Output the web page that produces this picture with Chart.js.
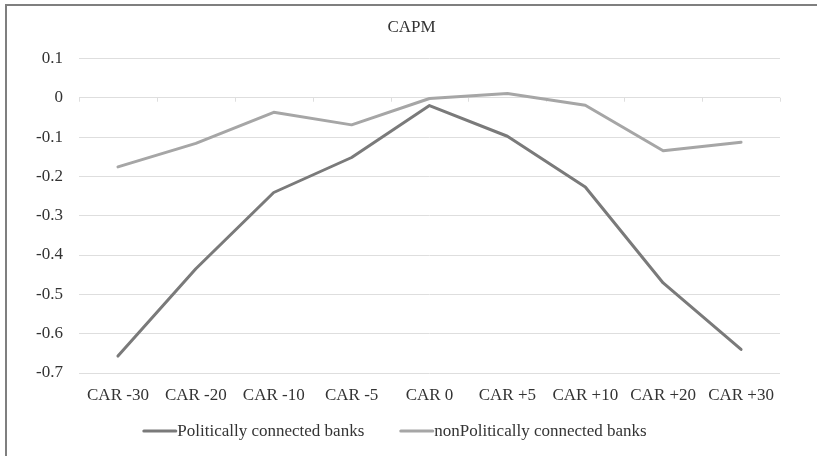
<!DOCTYPE html>
<html>
<head>
<meta charset="utf-8">
<script src="https://cdn.jsdelivr.net/npm/chart.js@4/dist/chart.umd.min.js"></script>
<style>
  html, body { margin: 0; padding: 0; background: #ffffff; }
  #wrap { position: relative; width: 817px; height: 456px; }
</style>
</head>
<body>
<div id="wrap"><canvas id="chart" width="817" height="456"></canvas></div>
<script>
// Event-window labels and cumulative abnormal returns (CAPM) per bank group
const categories = ['CAR -30', 'CAR -20', 'CAR -10', 'CAR -5', 'CAR 0', 'CAR +5', 'CAR +10', 'CAR +20', 'CAR +30'];
const politicallyConnected = [-0.657, -0.435, -0.241, -0.152, -0.020, -0.098, -0.227, -0.471, -0.640];
const nonPoliticallyConnected = [-0.176, -0.116, -0.037, -0.069, -0.002, 0.011, -0.019, -0.135, -0.113];
const seriesNames = ['Politically connected banks', 'nonPolitically connected banks'];
const yTickValues = [0.1, 0, -0.1, -0.2, -0.3, -0.4, -0.5, -0.6, -0.7];

const FONT = "'Liberation Serif', 'Times New Roman', serif";
const FONT_SIZE = 17;
const TEXT = '#333333';
const GRID = '#dedede';
const DARK = '#7a7a7a';
const LIGHT = '#a6a6a6';

function fmtTick(v) {
  const r = Math.round(v * 10) / 10;
  return (r === 0 ? 0 : r).toString();
}

// Outer frame (top and left edges of the chart box)
const framePlugin = {
  id: 'frame',
  afterDraw(chart) {
    const ctx = chart.ctx;
    ctx.save();
    ctx.strokeStyle = '#7f7f7f';
    ctx.lineWidth = 2;
    ctx.beginPath();
    ctx.moveTo(6, chart.height);
    ctx.lineTo(6, 5);
    ctx.lineTo(chart.width, 5);
    ctx.stroke();
    ctx.restore();
  }
};

// Small category tick marks hanging below the zero line
const zeroTicksPlugin = {
  id: 'zeroTicks',
  beforeDatasetsDraw(chart) {
    const x = chart.scales.x, y = chart.scales.y;
    const y0 = y.getPixelForValue(0);
    const n = categories.length;
    const step = (x.right - x.left) / n;
    const ctx = chart.ctx;
    ctx.save();
    ctx.strokeStyle = GRID;
    ctx.lineWidth = 1;
    ctx.beginPath();
    for (let i = 0; i <= n; i++) {
      const px = Math.round(x.left + i * step) + 0.5;
      ctx.moveTo(px, y0);
      ctx.lineTo(px, y0 + 4);
    }
    ctx.stroke();
    ctx.restore();
  }
};

// Legend: line sample followed directly by the series name
const legendPlugin = {
  id: 'lineLegend',
  afterDraw(chart) {
    const ctx = chart.ctx;
    const sample = 35, gap = 35;
    const yMid = 432;
    ctx.save();
    ctx.font = FONT_SIZE + 'px ' + FONT;
    ctx.textBaseline = 'middle';
    ctx.textAlign = 'left';
    const items = chart.data.datasets.map(ds => ({
      text: ds.label, color: ds.borderColor, w: ctx.measureText(ds.label).width
    }));
    const total = items.reduce((s, it) => s + sample + it.w, 0) + gap * (items.length - 1);
    let x = chart.width / 2 - 14 - total / 2;
    items.forEach(it => {
      ctx.strokeStyle = it.color;
      ctx.lineWidth = 3;
      ctx.lineCap = 'round';
      ctx.beginPath();
      ctx.moveTo(x + 1.5, yMid - 1);
      ctx.lineTo(x + sample - 1.5, yMid - 1);
      ctx.stroke();
      ctx.fillStyle = TEXT;
      ctx.fillText(it.text, x + sample, yMid);
      x += sample + it.w + gap;
    });
    ctx.restore();
  }
};

new Chart(document.getElementById('chart'), {
  type: 'line',
  data: {
    labels: categories,
    datasets: [
      {
        label: seriesNames[0],
        data: politicallyConnected,
        borderColor: DARK,
        backgroundColor: DARK,
        borderWidth: 3,
        borderCapStyle: 'round',
        borderJoinStyle: 'round',
        pointRadius: 0,
        tension: 0
      },
      {
        label: seriesNames[1],
        data: nonPoliticallyConnected,
        borderColor: LIGHT,
        backgroundColor: LIGHT,
        borderWidth: 3,
        borderCapStyle: 'round',
        borderJoinStyle: 'round',
        pointRadius: 0,
        tension: 0
      }
    ]
  },
  options: {
    responsive: false,
    animation: false,
    devicePixelRatio: 1,
    layout: { padding: { left: 10, right: 4, top: 8, bottom: 43 } },
    plugins: {
      legend: { display: false },
      tooltip: { enabled: false },
      title: {
        display: true,
        text: 'CAPM',
        color: TEXT,
        font: { family: FONT, size: FONT_SIZE, weight: 'normal' },
        padding: { top: 9, bottom: 21 }
      }
    },
    scales: {
      x: {
        type: 'category',
        offset: true,
        grid: { display: false, drawTicks: false },
        border: { display: false },
        ticks: {
          color: TEXT,
          font: { family: FONT, size: FONT_SIZE },
          padding: 12,
          maxRotation: 0,
          autoSkip: false
        },
        afterFit(scale) { scale.height = 40; }
      },
      y: {
        min: -0.7,
        max: 0.1,
        grid: { color: GRID, lineWidth: 1, drawTicks: false },
        border: { display: false },
        afterBuildTicks(scale) {
          scale.ticks = yTickValues.slice().reverse().map(v => ({ value: v }));
        },
        ticks: {
          color: TEXT,
          font: { family: FONT, size: FONT_SIZE },
          padding: 16,
          callback: v => fmtTick(v)
        },
        afterFit(scale) { scale.width = 69; }
      },
      // empty right-hand margin axis that keeps the plot clear of the right edge
      yMargin: {
        type: 'linear',
        position: 'right',
        display: true,
        grid: { display: false, drawTicks: false },
        border: { display: false },
        ticks: { display: false },
        afterFit(scale) { scale.width = 33; }
      }
    }
  },
  plugins: [framePlugin, zeroTicksPlugin, legendPlugin]
});
</script>
</body>
</html>
